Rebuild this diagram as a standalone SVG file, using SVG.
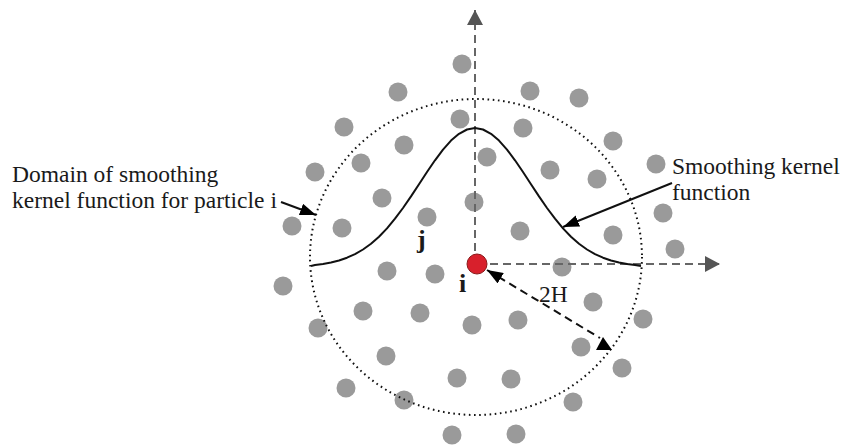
<svg xmlns="http://www.w3.org/2000/svg" width="842" height="446" viewBox="0 0 842 446">
<style>
.dot{fill:#9a9a9a}
.axis{stroke:#666;stroke-width:2;stroke-dasharray:8 5;fill:none}
.lbl{font-family:"Liberation Serif","Times New Roman",serif;font-size:23.5px;fill:#1a1a1a}
.b{font-weight:bold;font-size:26px}
.lead{stroke:#111;stroke-width:2;fill:none}
</style>
<defs>
<marker id="ah" viewBox="0 0 16 12" refX="16" refY="6" markerWidth="16" markerHeight="12" markerUnits="userSpaceOnUse" orient="auto-start-reverse"><path d="M0,0 L16,6 L0,12 z" fill="#000"/></marker>
<marker id="ag" viewBox="0 0 15 16" refX="15" refY="8" markerWidth="15" markerHeight="16" markerUnits="userSpaceOnUse" orient="auto"><path d="M0,0 L15,8 L0,16 z" fill="#555"/></marker>
</defs>
<rect width="842" height="446" fill="#fff"/>
<g id="particles">
<circle class="dot" cx="462" cy="64" r="9.5"/><circle class="dot" cx="398" cy="92" r="9.5"/><circle class="dot" cx="344" cy="127" r="9.5"/><circle class="dot" cx="460" cy="119" r="9.5"/><circle class="dot" cx="404" cy="145" r="9.5"/>
<circle class="dot" cx="530" cy="91" r="9.5"/><circle class="dot" cx="579" cy="98" r="9.5"/><circle class="dot" cx="523" cy="128" r="9.5"/><circle class="dot" cx="613" cy="141" r="9.5"/><circle class="dot" cx="487" cy="157" r="9.5"/>
<circle class="dot" cx="315" cy="172" r="9.5"/><circle class="dot" cx="361" cy="163" r="9.5"/><circle class="dot" cx="382" cy="198" r="9.5"/><circle class="dot" cx="427" cy="217" r="9.5"/><circle class="dot" cx="292" cy="226" r="9.5"/>
<circle class="dot" cx="342" cy="228" r="9.5"/><circle class="dot" cx="387" cy="271" r="9.5"/><circle class="dot" cx="435" cy="274" r="9.5"/><circle class="dot" cx="283" cy="286" r="9.5"/><circle class="dot" cx="474" cy="202" r="9.5"/>
<circle class="dot" cx="550" cy="170" r="9.5"/><circle class="dot" cx="597" cy="179" r="9.5"/><circle class="dot" cx="656" cy="164" r="9.5"/><circle class="dot" cx="663" cy="213" r="9.5"/><circle class="dot" cx="520" cy="231" r="9.5"/>
<circle class="dot" cx="613" cy="235" r="9.5"/><circle class="dot" cx="675" cy="249" r="9.5"/><circle class="dot" cx="562" cy="267" r="9.5"/><circle class="dot" cx="363" cy="311" r="9.5"/><circle class="dot" cx="420" cy="313" r="9.5"/>
<circle class="dot" cx="318" cy="328" r="9.5"/><circle class="dot" cx="386" cy="356" r="9.5"/><circle class="dot" cx="346" cy="388" r="9.5"/><circle class="dot" cx="404" cy="400" r="9.5"/><circle class="dot" cx="452" cy="435" r="9.5"/>
<circle class="dot" cx="457" cy="378" r="9.5"/><circle class="dot" cx="472" cy="325" r="9.5"/><circle class="dot" cx="518" cy="320" r="9.5"/><circle class="dot" cx="593" cy="302" r="9.5"/><circle class="dot" cx="643" cy="319" r="9.5"/>
<circle class="dot" cx="581" cy="347" r="9.5"/><circle class="dot" cx="622" cy="368" r="9.5"/><circle class="dot" cx="511" cy="379" r="9.5"/><circle class="dot" cx="573" cy="402" r="9.5"/><circle class="dot" cx="516" cy="434" r="9.5"/>
</g>
<g id="domain">
<ellipse cx="476" cy="257" rx="166" ry="158" fill="none" stroke="#111" stroke-width="2" stroke-dasharray="1.6 3.6"/>
</g>
<g id="connectors">
<line class="axis" x1="475" y1="264" x2="475" y2="10" marker-end="url(#ag)"/>
<line class="axis" x1="477" y1="264" x2="720" y2="264" marker-end="url(#ag)"/>
<line x1="487" y1="270" x2="600" y2="338" stroke="#111" stroke-width="2" stroke-dasharray="8 5" marker-start="url(#ah)"/>
<polygon points="603,337 596,350 612,350" fill="#000"/>
<line class="lead" x1="281" y1="202" x2="316" y2="215" marker-end="url(#ah)"/>
<line class="lead" x1="672" y1="183" x2="563" y2="227" marker-end="url(#ah)"/>
</g>
<g id="kernel">
<polyline fill="none" stroke="#111" stroke-width="2" stroke-linejoin="round" points="311,266 315,265 323,264 331,262.5 339,260.5 347,257.7 355,254.1 363,249.5 371,243.7 379,236.7 387,228.4 395,218.7 403,208 411,196.4 419,184.2 427,172 435,160.3 443,149.6 451,140.6 459,133.8 467,129.5 475,128 483,129.5 491,133.8 499,140.6 507,149.6 515,160.3 523,172 531,184.2 539,196.4 547,208 555,218.7 563,228.4 571,236.7 579,243.7 587,249.5 595,254.1 603,257.7 611,260.5 619,262.5 627,264 635,265 641,266"/>
</g>
<g id="particle-i">
<circle cx="477" cy="264" r="10" fill="#d8202c" stroke="#8a1a1a" stroke-width="1"/>
<text class="lbl b" x="459" y="292">i</text>
</g>
<g id="particle-j">
<text class="lbl b" x="417" y="248">j</text>
</g>
<g id="labels">
<text class="lbl" x="12" y="182">Domain of smoothing</text>
<text class="lbl" x="12" y="208">kernel function for particle i</text>
<text class="lbl" x="672" y="174">Smoothing kernel</text>
<text class="lbl" x="672" y="200">function</text>
<text class="lbl" x="539" y="302">2H</text>
</g>
</svg>
